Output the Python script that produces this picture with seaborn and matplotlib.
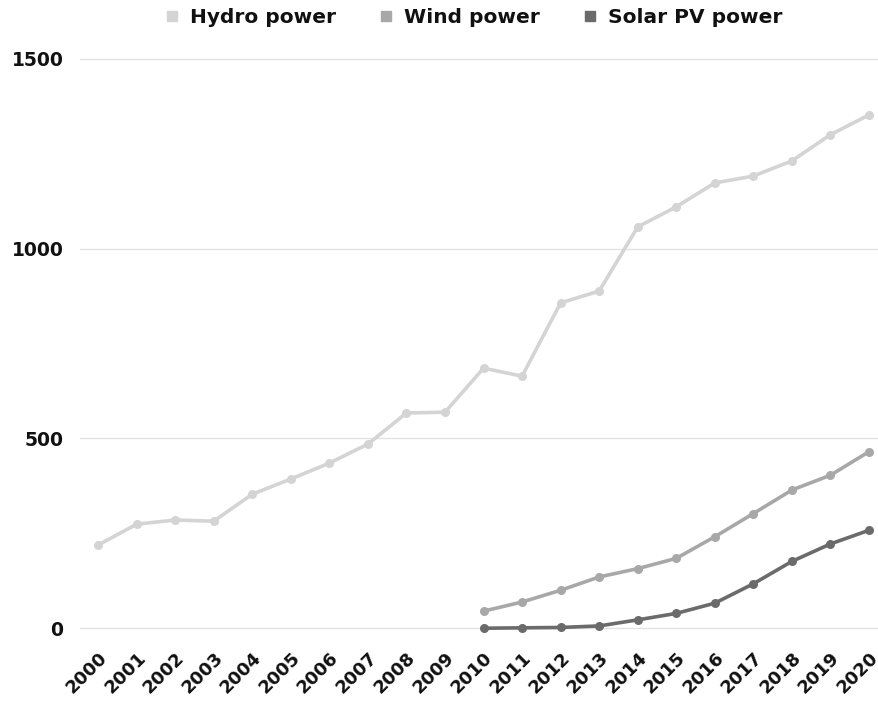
import pandas as pd
import matplotlib.pyplot as plt
import seaborn as sns
from matplotlib.lines import Line2D

# Installed capacity values
years = list(range(2000, 2021))
hydro = [219, 274, 285, 282, 353, 393, 435, 485, 567, 569,
         685, 664, 857, 888, 1057, 1110, 1173, 1191, 1231, 1300, 1352]
wind_years = list(range(2010, 2021))
wind = [45, 69, 100, 135, 157, 184, 241, 302, 364, 403, 465]
solar = [0, 1, 2, 6, 22, 39, 66, 117, 176, 222, 258]

series_names = ['Hydro power', 'Wind power', 'Solar PV power']
colors = ['#d4d4d4', '#a8a8a8', '#6b6b6b']

df = pd.concat([
    pd.DataFrame({'year': years, 'value': hydro, 'series': series_names[0]}),
    pd.DataFrame({'year': wind_years, 'value': wind, 'series': series_names[1]}),
    pd.DataFrame({'year': wind_years, 'value': solar, 'series': series_names[2]}),
])

sns.set_style('white')
plt.rcParams['font.family'] = ['DejaVu Sans']
plt.rcParams['text.color'] = '#111111'
plt.rcParams['xtick.color'] = '#111111'
plt.rcParams['ytick.color'] = '#111111'

fig = plt.figure(figsize=(8.79, 7.02), dpi=100)
ax = fig.add_axes([0.091, 0.0997, 0.909, 0.822])

sns.lineplot(data=df, x='year', y='value', hue='series', palette=colors,
             marker='o', markersize=6.5, markeredgewidth=0, linewidth=2.6,
             legend=False, ax=ax)

ax.set_xlim(1999.53, 2020.26)
ax.set_ylim(-10, 1510)
ax.set_yticks([0, 500, 1000, 1500])
ax.set_xticks(years)
ax.set_xticklabels([str(y) for y in years], rotation=45, ha='right',
                   rotation_mode='anchor', fontsize=13, fontweight='bold')
ax.set_yticklabels(['0', '500', '1000', '1500'], fontsize=13.5, fontweight='bold')
ax.tick_params(axis='both', length=0)
ax.tick_params(axis='y', pad=12)
ax.tick_params(axis='x', pad=12)
ax.set_xlabel('')
ax.set_ylabel('')
ax.grid(axis='y', color='#e2e2e2', linewidth=1)
ax.set_axisbelow(True)
sns.despine(ax=ax, left=True, bottom=True)

handles = [Line2D([], [], marker='s', linestyle='', color=c, markersize=7)
           for c in colors]
fig.legend(handles, series_names, loc='center', bbox_to_anchor=(0.536, 0.975),
           ncol=3, frameon=False, handletextpad=0.3, columnspacing=1.9,
           handlelength=1.2, prop={'size': 14.5, 'weight': 'bold'})

plt.savefig('out.png', dpi=100)
plt.close()
